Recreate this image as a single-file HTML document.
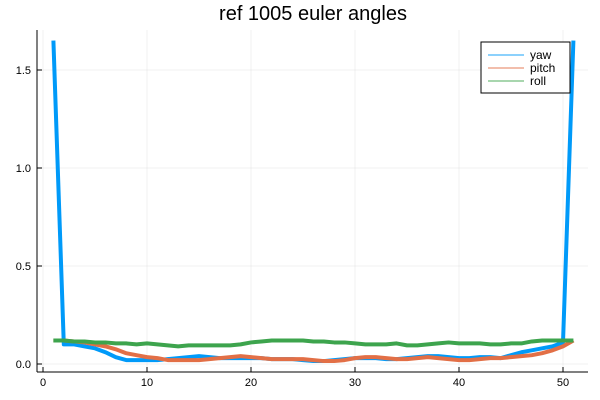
<!DOCTYPE html>
<html><head><meta charset="utf-8"><style>
body{margin:0;background:#fff;}
svg{display:block;font-family:"Liberation Sans",sans-serif;}
</style></head><body>
<svg id="chart" width="600" height="400">
<text x="313" y="20" text-anchor="middle" font-size="20">ref 1005 euler angles</text>
<g id="grid"></g><g id="axes"></g><g id="series"></g>
<g>
<rect x="481" y="42" width="89" height="51" fill="#fff" stroke="#000" stroke-width="1"/>
<line x1="488" y1="55" x2="524" y2="55" stroke="#009af9" stroke-opacity="0.6" stroke-width="1.5"/>
<text x="530" y="59" font-size="12">yaw</text>
<line x1="488" y1="68" x2="524" y2="68" stroke="#e26f46" stroke-opacity="0.6" stroke-width="1.5"/>
<text x="530" y="72" font-size="12">pitch</text>
<line x1="488" y1="81" x2="524" y2="81" stroke="#3da44d" stroke-opacity="0.6" stroke-width="1.5"/>
<text x="530" y="85" font-size="12">roll</text>
</g>
</svg>
<script>
const xs = Array.from({length:51},(_,i)=>i+1);
const yaw = [1.65,0.10,0.10,0.09,0.08,0.06,0.035,0.02,0.02,0.02,0.02,0.025,0.03,0.035,0.04,0.035,0.03,0.03,0.03,0.03,0.03,0.025,0.025,0.025,0.02,0.015,0.015,0.02,0.025,0.03,0.03,0.03,0.025,0.025,0.03,0.035,0.04,0.04,0.035,0.03,0.03,0.035,0.035,0.03,0.045,0.06,0.07,0.08,0.09,0.11,1.65];
const pitch = [0.12,0.12,0.115,0.11,0.10,0.09,0.075,0.055,0.045,0.035,0.03,0.02,0.02,0.02,0.02,0.025,0.03,0.035,0.04,0.035,0.03,0.025,0.025,0.025,0.025,0.02,0.015,0.015,0.02,0.03,0.035,0.035,0.03,0.025,0.025,0.03,0.035,0.03,0.025,0.02,0.02,0.025,0.03,0.03,0.035,0.04,0.045,0.055,0.07,0.09,0.12];
const roll = [0.12,0.12,0.115,0.115,0.11,0.11,0.105,0.105,0.10,0.105,0.10,0.095,0.09,0.095,0.095,0.095,0.095,0.095,0.10,0.11,0.115,0.12,0.12,0.12,0.12,0.115,0.115,0.11,0.11,0.105,0.10,0.10,0.10,0.105,0.095,0.095,0.10,0.105,0.11,0.105,0.105,0.105,0.10,0.10,0.105,0.105,0.115,0.12,0.12,0.12,0.12];
const xTicks=[0,10,20,30,40,50];
const yTicks=[0,0.5,1.0,1.5];
const yTickLabels=["0.0","0.5","1.0","1.5"];
const X=v=>43+10.4*v, Y=v=>364-196*v;
const NS="http://www.w3.org/2000/svg";
function mk(p,t,a){const e=document.createElementNS(NS,t);for(const k in a)e.setAttribute(k,a[k]);p.appendChild(e);return e;}
const grid=document.getElementById('grid'),axes=document.getElementById('axes'),ser=document.getElementById('series');
xTicks.forEach(v=>{
 const g=mk(grid,'line',{x1:X(v),x2:X(v),y1:30,y2:372,stroke:'#000','stroke-opacity':0.1,'stroke-width':0.5});
 
 
 const t=mk(axes,'text',{x:X(v),y:386,'text-anchor':'middle','font-size':11});
 t.textContent=v;
 
 
 mk(axes,'line',{x1:X(v),x2:X(v),y1:372,y2:367,stroke:'#000'});
});
yTicks.forEach((v,i)=>{
 const g=mk(grid,'line',{x1:37,x2:588,y1:Y(v),y2:Y(v),stroke:'#000','stroke-opacity':0.1,'stroke-width':0.5});
 
 
 const t=mk(axes,'text',{x:31,y:Y(v)+4,'text-anchor':'end','font-size':11});
 t.textContent=yTickLabels[i];
 
 
 mk(axes,'line',{x1:37,x2:42,y1:Y(v),y2:Y(v),stroke:'#000'});
});
const xa=mk(axes,'line',{x1:37,x2:588,y1:372,y2:372,stroke:'#000'});


const ya=mk(axes,'line',{x1:37,x2:37,y1:30,y2:372,stroke:'#000'});


[[yaw,'#009af9','yaw-line'],[pitch,'#e26f46','pitch-line'],[roll,'#3da44d','roll-line']].forEach(([d,c,n])=>{
 const p=mk(ser,'polyline',{points:d.map((v,i)=>X(xs[i])+','+Y(v)).join(' '),fill:'none',stroke:c,'stroke-width':4,'stroke-linejoin':'round'});
 
 
});
</script>
</body></html>
